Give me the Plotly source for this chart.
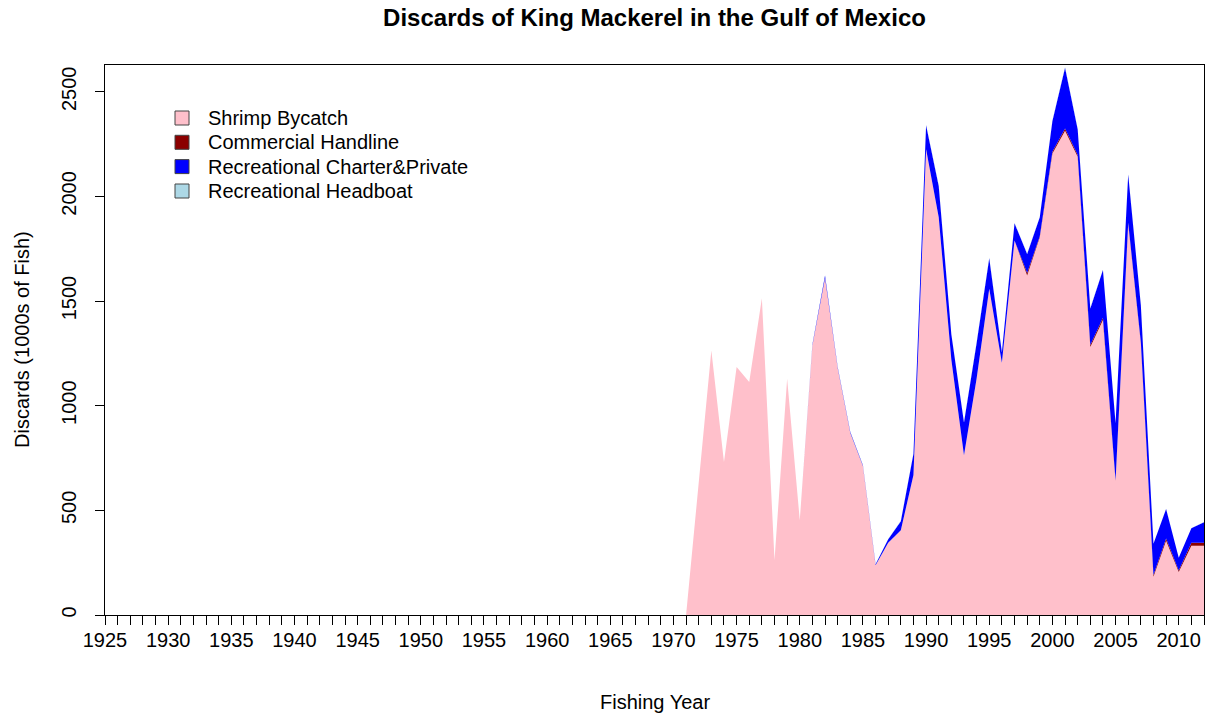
import plotly.graph_objects as go

# Fishing years with recorded discards
years = list(range(1971, 2013))

# Discards in 1000s of fish, by fleet
shrimp_bycatch = [0, 640, 1264, 731, 1185, 1113, 1514, 262, 1129, 453,
                  1288, 1610, 1180, 870, 712, 238, 345, 405, 669, 2226,
                  1900, 1220, 763, 1130, 1559, 1205, 1790, 1622, 1805, 2205,
                  2314, 2190, 1280, 1410, 640, 1869, 1300, 183, 355, 205,
                  331, 331]
commercial_handline = [0, 0, 0, 0, 0, 0, 0, 0, 0, 0,
                       0, 0, 0, 0, 0, 0, 0, 0, 0, 0,
                       0, 0, 0, 0, 0, 0, 0, 12, 5, 8,
                       10, 8, 10, 10, 4, 5, 5, 8, 10, 8,
                       14, 14]
rec_charter_private = [0, 0, 0, 0, 0, 0, 0, 0, 0, 0,
                       5, 12, 5, 5, 4, 5, 17, 43, 102, 114,
                       150, 120, 157, 170, 146, 50, 82, 91, 90, 147,
                       291, 123, 175, 228, 272, 231, 175, 149, 142, 60,
                       69, 98]
rec_headboat = [0, 0, 0, 0, 0, 0, 0, 0, 0, 0,
                1, 1, 1, 1, 1, 1, 1, 2, 2, 3,
                3, 2, 2, 3, 3, 2, 2, 2, 2, 3,
                3, 2, 2, 2, 2, 2, 2, 1, 1, 1,
                1, 1]

series_names = ["Shrimp Bycatch", "Commercial Handline",
                "Recreational Charter&Private", "Recreational Headboat"]
series_colors = ["#FFC0CB", "#8B0000", "#0000FF", "#ADD8E6"]
series_values = [shrimp_bycatch, commercial_handline,
                 rec_charter_private, rec_headboat]

axis_years = list(range(1925, 2013))
y_ticks = [0, 500, 1000, 1500, 2000, 2500]

W, H = 1207, 719
ML, MR, MT, MB = 105, 3, 65, 104
PW, PH = W - ML - MR, H - MT - MB
FONT = "Liberation Sans, Arial, sans-serif"


def px_x(px):
    return (px - ML) / PW


def px_y(py):
    return (H - MB - py) / PH


fig = go.Figure()
for name, color, vals in zip(series_names, series_colors, series_values):
    fig.add_trace(go.Scatter(
        x=years, y=vals, name=name, mode="lines",
        stackgroup="discards", fillcolor=color,
        line=dict(width=0, color=color),
        showlegend=False, hoverinfo="skip",
    ))

totals = [sum(v) for v in zip(*series_values)]
y_top = max(totals) + 10

fig.update_layout(
    width=W, height=H,
    margin=dict(l=ML, r=MR, t=MT, b=MB),
    paper_bgcolor="white", plot_bgcolor="white",
    font=dict(family=FONT, size=20, color="black"),
    title=dict(text="<b>Discards of King Mackerel in the Gulf of Mexico</b>",
               font=dict(family=FONT, size=24, color="black"),
               x=px_x(654.5), xref="paper", xanchor="center",
               y=1 - 18 / H, yref="container", yanchor="middle"),
    xaxis=dict(range=[1925, 2012], tickmode="array", tickvals=axis_years,
               ticktext=[str(y) if y % 5 == 0 else "" for y in axis_years],
               ticks="outside", ticklen=9, tickwidth=1, tickcolor="black",
               showline=True, linecolor="black", linewidth=1, mirror=True,
               showgrid=False, zeroline=False, ticklabelstandoff=-2,
               tickfont=dict(family=FONT, size=20, color="black")),
    yaxis=dict(range=[0, y_top], tickmode="array", tickvals=y_ticks,
               ticktext=[str(v) for v in y_ticks], tickangle=-90,
               ticks="outside", ticklen=9, tickwidth=1, tickcolor="black",
               showline=True, linecolor="black", linewidth=1, mirror=True,
               showgrid=False, zeroline=False, ticklabelstandoff=11,
               tickfont=dict(family=FONT, size=20, color="black")),
)

# Axis titles
fig.add_annotation(text="Fishing Year", xref="paper", yref="paper",
                   x=px_x(654.5), y=px_y(702), xanchor="center", yanchor="middle",
                   showarrow=False, font=dict(family=FONT, size=20, color="black"))
fig.add_annotation(text="Discards (1000s of Fish)", xref="paper", yref="paper",
                   x=px_x(22), y=px_y(340), xanchor="center", yanchor="middle",
                   textangle=-90, showarrow=False,
                   font=dict(family=FONT, size=20, color="black"))

# Legend: boxed colour keys with labels
row_centers = [118, 142.3, 166.6, 191]
for name, color, cy in zip(series_names, series_colors, row_centers):
    fig.add_shape(type="rect", xref="paper", yref="paper",
                  x0=px_x(175), x1=px_x(189), y0=px_y(cy - 7), y1=px_y(cy + 7),
                  fillcolor=color, line=dict(color="#444444", width=1))
    fig.add_annotation(text=name, xref="paper", yref="paper",
                       x=px_x(206), y=px_y(cy), xanchor="left", yanchor="middle",
                       showarrow=False, font=dict(family=FONT, size=20, color="black"))

fig.write_html("out.html")
